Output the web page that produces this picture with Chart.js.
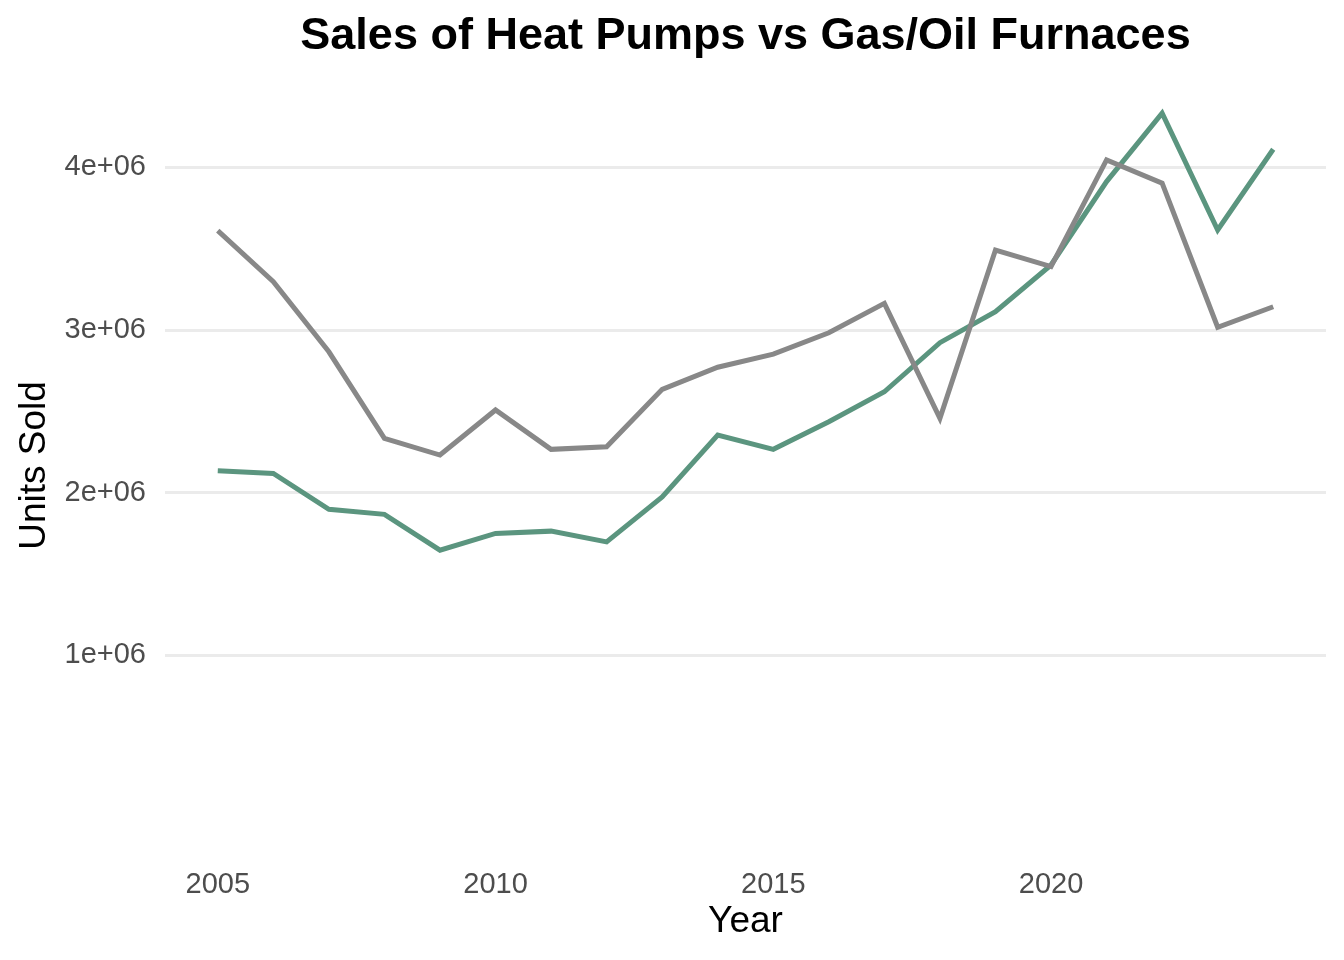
<!DOCTYPE html>
<html>
<head>
<meta charset="utf-8">
<script src="https://cdn.jsdelivr.net/npm/chart.js@4"></script>
<style>
  html, body { margin: 0; padding: 0; background: #ffffff; }
  #wrap { width: 1344px; height: 960px; position: relative; }
</style>
</head>
<body>
<div id="wrap"><canvas id="c" width="1344" height="960"></canvas></div>
<script>
const years = [2005,2006,2007,2008,2009,2010,2011,2012,2013,2014,2015,2016,2017,2018,2019,2020,2021,2022,2023,2024];
const heatPumps = [2134000,2118000,1897000,1866000,1646000,1749000,1763000,1697000,1974000,2354000,2266000,2436000,2620000,2922000,3113000,3400000,3913000,4334000,3615000,4112000];
const furnaces = [3611000,3297000,2866000,2334000,2231000,2508000,2266000,2282000,2635000,2771000,2852000,2983000,3164000,2457000,3492000,3390000,4046000,3903000,3017000,3143000];
const xTicks = [2005, 2010, 2015, 2020];
const yTicks = [1000000, 2000000, 3000000, 4000000];
const titleText = "Sales of Heat Pumps vs Gas/Oil Furnaces";

function sci(v) {
  if (v === 0) return "0e+00";
  const e = Math.floor(Math.log10(Math.abs(v)));
  const m = v / Math.pow(10, e);
  const ms = Number.isInteger(m) ? String(m) : m.toFixed(1);
  return ms + "e" + (e >= 0 ? "+" : "-") + String(Math.abs(e)).padStart(2, "0");
}

const toXY = (arr) => years.map((y, i) => ({ x: y, y: arr[i] }));
const FONT = "'Liberation Sans', Arial, Helvetica, sans-serif";

new Chart(document.getElementById("c"), {
  type: "line",
  data: {
    datasets: [
      { label: "Gas/Oil Furnaces", data: toXY(furnaces), borderColor: "#888888", borderWidth: 5, pointRadius: 0, tension: 0, fill: false, borderJoinStyle: "miter" },
      { label: "Heat Pumps", data: toXY(heatPumps), borderColor: "#5b957f", borderWidth: 5, pointRadius: 0, tension: 0, fill: false, borderJoinStyle: "miter" }
    ]
  },
  options: {
    responsive: false,
    animation: false,
    devicePixelRatio: 1,
    layout: { padding: { left: 13, right: 18, top: 8, bottom: 16 } },
    plugins: {
      legend: { display: false },
      tooltip: { enabled: false },
      title: {
        display: true,
        text: titleText,
        fullSize: false,
        color: "#000000",
        font: { family: FONT, size: 45, weight: "bold" },
        padding: { top: 2, bottom: 14 }
      }
    },
    scales: {
      x: {
        type: "linear",
        min: 2004.05,
        max: 2024.95,
        afterBuildTicks: (axis) => { axis.ticks = xTicks.map(v => ({ value: v })); },
        afterFit: (axis) => { axis.height = 91; },
        grid: { display: false, drawTicks: false },
        border: { display: false },
        ticks: {
          color: "#4d4d4d",
          font: { family: FONT, size: 29 },
          padding: 15,
          maxRotation: 0,
          autoSkip: false,
          callback: (v) => String(v)
        },
        title: {
          display: true,
          text: "Year",
          color: "#000000",
          font: { family: FONT, size: 37 },
          padding: { top: 0, bottom: 0 }
        }
      },
      y: {
        type: "linear",
        min: -216700,
        max: 4550000,
        afterBuildTicks: (axis) => { axis.ticks = yTicks.map(v => ({ value: v })); },
        afterFit: (axis) => { axis.width = 152; },
        grid: { display: true, color: "#ebebeb", lineWidth: 3, drawTicks: false },
        border: { display: false },
        ticks: {
          color: "#4d4d4d",
          font: { family: FONT, size: 29 },
          padding: 19,
          autoSkip: false,
          callback: (v) => sci(v)
        },
        title: {
          display: true,
          text: "Units Sold",
          color: "#000000",
          font: { family: FONT, size: 37 },
          padding: { top: 0, bottom: 6 }
        }
      }
    }
  }
});
</script>
</body>
</html>
